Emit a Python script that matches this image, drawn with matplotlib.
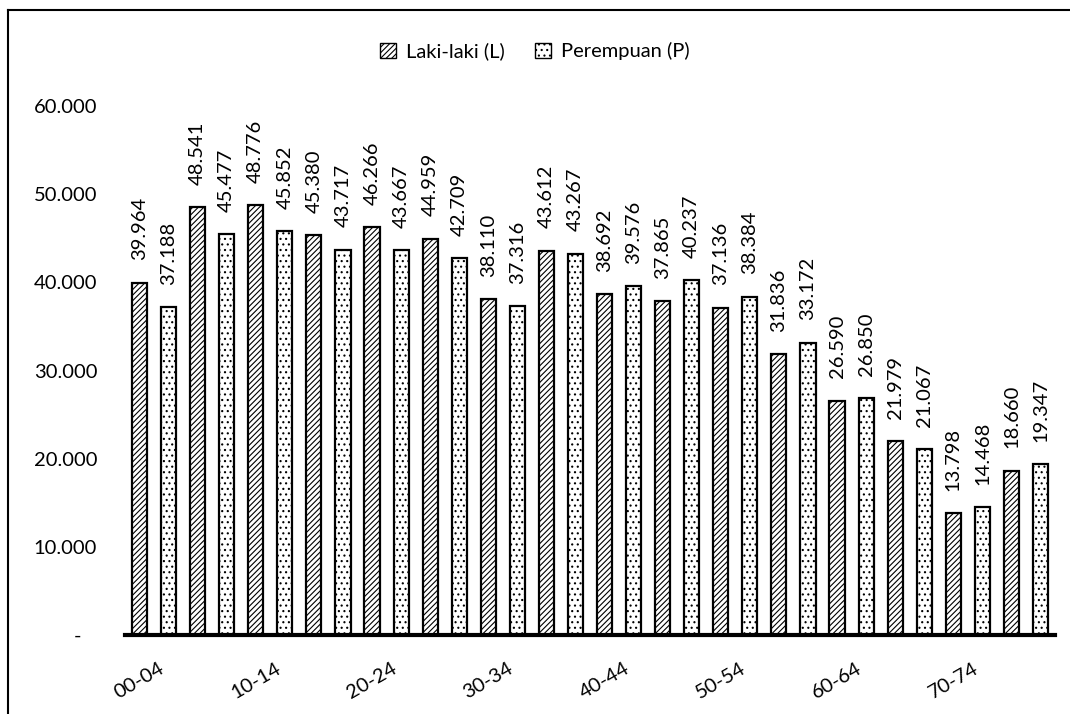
import numpy as np
import matplotlib.pyplot as plt
import matplotlib.transforms as mtransforms
from matplotlib.patches import Patch
from matplotlib.lines import Line2D

plt.rcParams['font.family'] = ['Lato', 'DejaVu Sans']
plt.rcParams['hatch.linewidth'] = 0.8

kelompok = ['00-04', '05-09', '10-14', '15-19', '20-24', '25-29', '30-34', '35-39',
            '40-44', '45-49', '50-54', '55-59', '60-64', '65-69', '70-74', '75+']
laki = [39964, 48541, 48776, 45380, 46266, 44959, 38110, 43612,
        38692, 37865, 37136, 31836, 26590, 21979, 13798, 18660]
perempuan = [37188, 45477, 45852, 43717, 43667, 42709, 37316, 43267,
             39576, 40237, 38384, 33172, 26850, 21067, 14468, 19347]
yticks = [0, 10000, 20000, 30000, 40000, 50000, 60000]

def fmt(v):
    # format ribuan gaya Indonesia
    return '{:,}'.format(v).replace(',', '.')

fig = plt.figure(figsize=(10.7, 7.14), dpi=100)
ax = fig.add_axes([0.1168, 0.1106, 0.8692, 0.7409])

x = np.arange(len(kelompok))
lebar = 0.26
ax.bar(x - 0.25, laki, lebar, color='white', edgecolor='black', linewidth=1.6,
       hatch='//////', zorder=2)
ax.bar(x + 0.25, perempuan, lebar, color='white', edgecolor='black', linewidth=1.6,
       hatch='...', zorder=2)

for i in range(len(kelompok)):
    ax.annotate(fmt(laki[i]), (x[i] - 0.25, laki[i]), xytext=(0, 16),
                textcoords='offset points', rotation=90, ha='center', va='bottom',
                fontsize=14.5, annotation_clip=False)
    ax.annotate(fmt(perempuan[i]), (x[i] + 0.25, perempuan[i]), xytext=(0, 16),
                textcoords='offset points', rotation=90, ha='center', va='bottom',
                fontsize=14.5, annotation_clip=False)

ax.set_xlim(-0.5, len(kelompok) - 0.5)
ax.set_ylim(0, 60000)
ax.set_yticks(yticks)
ax.set_yticklabels(['-   '] + [fmt(v) for v in yticks[1:]], fontsize=14.5)
ax.set_xticks(x)
ax.set_xticklabels([k if i % 2 == 0 else '' for i, k in enumerate(kelompok)],
                   rotation=30, ha='right', rotation_mode='anchor', fontsize=14.5)
ax.tick_params(axis='both', length=0)
ax.tick_params(axis='y', pad=20)
ax.tick_params(axis='x', pad=18)

# geser label sumbu x sedikit ke kanan
geser = mtransforms.ScaledTranslation(5 / 100, 0, fig.dpi_scale_trans)
for lbl in ax.get_xticklabels():
    lbl.set_transform(lbl.get_transform() + geser)

for s in ['top', 'right', 'left']:
    ax.spines[s].set_visible(False)
ax.spines['bottom'].set_linewidth(3)
ax.spines['bottom'].set_zorder(3)

h1 = Patch(facecolor='white', edgecolor='black', hatch='//////', linewidth=1)
h2 = Patch(facecolor='white', edgecolor='black', hatch='...', linewidth=1)
fig.legend([h1, h2], ['Laki-laki (L)', 'Perempuan (P)'], loc='center',
           bbox_to_anchor=(0.5, 0.928), ncol=2, frameon=False, fontsize=14.5,
           handlelength=0.8, handleheight=0.8, columnspacing=1.5, handletextpad=0.5)

# garis bingkai
fig.add_artist(Line2D([0.0075, 0.0075], [0, 0.986], color='black', linewidth=1.5))
fig.add_artist(Line2D([0.0075, 1.0], [0.986, 0.986], color='black', linewidth=1.5))

fig.savefig('out.png', dpi=100)
